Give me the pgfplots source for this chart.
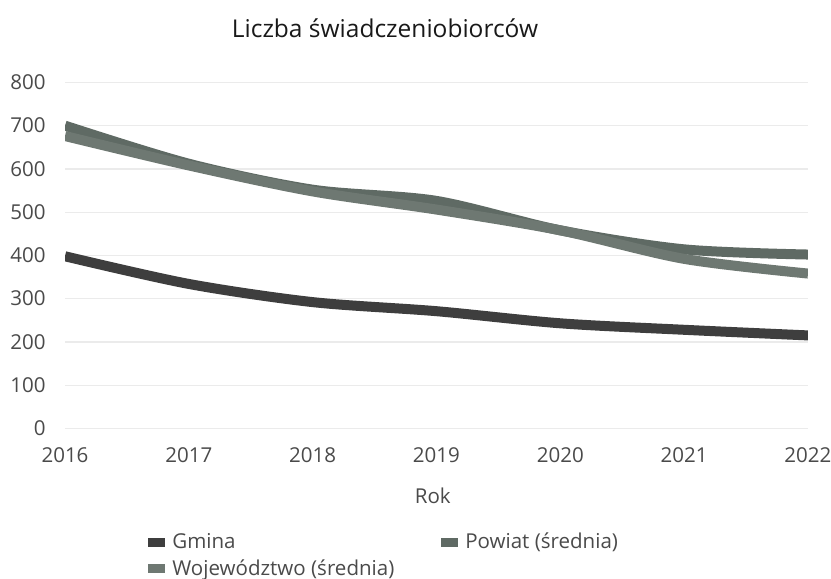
\documentclass[border=0pt]{standalone}
\usepackage{fontspec}
\setmainfont{Open Sans}
\usepackage{pgfplots}
\pgfplotsset{compat=1.18}
\definecolor{gmina}{HTML}{3E3E3E}
\definecolor{powiat}{HTML}{5F6A64}
\definecolor{woj}{HTML}{6E7872}
\definecolor{tickc}{HTML}{4A4A4A}
\definecolor{gridc}{HTML}{EBEBEB}

\begin{document}
\begin{tikzpicture}
\useasboundingbox (-32.5bp,-75.3bp) rectangle (383bp,214.2bp);
\begin{axis}[scale only axis, width=371.5bp, height=173bp,
  xmin=2016, xmax=2022, ymin=0, ymax=800,
  xtick={2016,...,2022}, ytick={0,100,...,800},
  x tick label style={/pgf/number format/1000 sep={}},
  /pgf/number format/assume math mode=true,
  axis line style={draw=none}, tick style={draw=none},
  ymajorgrids=true, xmajorgrids=false, grid style={color=gridc, line width=0.6bp},
  tick label style={font=\fontsize{10.3}{12}\selectfont, text=tickc},
  yticklabel style={anchor=east, inner sep=0pt, xshift=-9.5bp},
  xticklabel style={anchor=center, inner sep=0pt, yshift=-13.5bp},
  xlabel={Rok}, xlabel style={at={(0.495,0)}, anchor=center, yshift=-33.5bp,
    font=\fontsize{10.3}{12}\selectfont, text=tickc},
  title={Liczba świadczeniobiorców},
  title style={at={(0.4307,1)}, anchor=center, yshift=21bp,
    font=\fontsize{12.3}{14}\selectfont, text=black!90},
  legend columns=2, legend cell align=left,
  legend style={at={(0.1117,0)}, anchor=north west, yshift=-51bp, draw=none,
    fill=none, inner sep=0pt, row sep=2bp,
    font=\fontsize{10.3}{12}\selectfont, text=tickc,
    nodes={inner sep=1bp},
    /tikz/column 1/.style={column sep=2.5bp},
    /tikz/column 3/.style={column sep=2.5bp},
    /tikz/column 2/.style={column sep=22.5bp}},
  legend image code/.code={\fill[#1, draw=none] (0bp,-2.3bp) rectangle (8.5bp,2.3bp);},
  every axis plot/.append style={line width=5bp, smooth, line cap=butt}
]
\addplot[color=gmina] coordinates {(2016,398)(2017,334)(2018,292)(2019,271)(2020,243)(2021,228)(2022,215)};
\addlegendentry{Gmina}
\addplot[color=powiat] coordinates {(2016,700)(2017,612)(2018,552)(2019,526)(2020,458)(2021,414)(2022,402)};
\addlegendentry{Powiat (średnia)}
\addplot[color=woj] coordinates {(2016,676)(2017,608)(2018,548)(2019,506)(2020,458)(2021,392)(2022,358)};
\addlegendentry{Województwo (średnia)}
\end{axis}
\end{tikzpicture}
\end{document}
